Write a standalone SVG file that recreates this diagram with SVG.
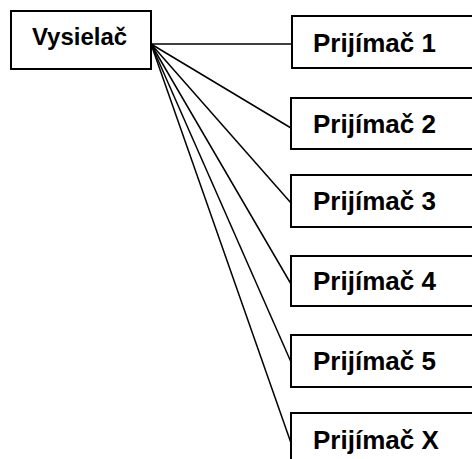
<svg xmlns="http://www.w3.org/2000/svg" width="472" height="459" viewBox="0 0 472 459">
<style>
.box{fill:#fff;stroke:#000;stroke-width:2}
.t{font-family:"Liberation Sans",Arial,sans-serif;font-weight:bold;fill:#000}
.c{stroke:#000;stroke-width:1.5;fill:none}
</style>
<rect width="472" height="459" fill="#fff"/>
<g id="connectors">
<line class="c" x1="151" y1="44" x2="292" y2="44"/>
<line class="c" x1="151" y1="44" x2="291" y2="128"/>
<line class="c" x1="151" y1="44" x2="291" y2="203"/>
<line class="c" x1="151" y1="44" x2="291" y2="284"/>
<line class="c" x1="151" y1="44" x2="291" y2="362"/>
<line class="c" x1="151" y1="44" x2="291" y2="443"/>
</g>
<g id="vysielac">
<rect class="box" x="11" y="11" width="140" height="58"/>
<text class="t" x="32" y="45" font-size="24">Vysielač</text>
</g>
<g id="prijimac1">
<rect class="box" x="292" y="16" width="190" height="52"/>
<text class="t" x="313" y="52" font-size="26">Prijímač 1</text>
</g>
<g id="prijimac2">
<rect class="box" x="291" y="98" width="190" height="51"/>
<text class="t" x="313" y="133" font-size="26">Prijímač 2</text>
</g>
<g id="prijimac3">
<rect class="box" x="291" y="175" width="190" height="52"/>
<text class="t" x="313" y="210" font-size="26">Prijímač 3</text>
</g>
<g id="prijimac4">
<rect class="box" x="291" y="256" width="190" height="50"/>
<text class="t" x="313" y="290" font-size="26">Prijímač 4</text>
</g>
<g id="prijimac5">
<rect class="box" x="291" y="335" width="190" height="52"/>
<text class="t" x="313" y="370" font-size="26">Prijímač 5</text>
</g>
<g id="prijimacX">
<rect class="box" x="291" y="413" width="190" height="60"/>
<text class="t" x="313" y="449" font-size="26">Prijímač X</text>
</g>
</svg>
